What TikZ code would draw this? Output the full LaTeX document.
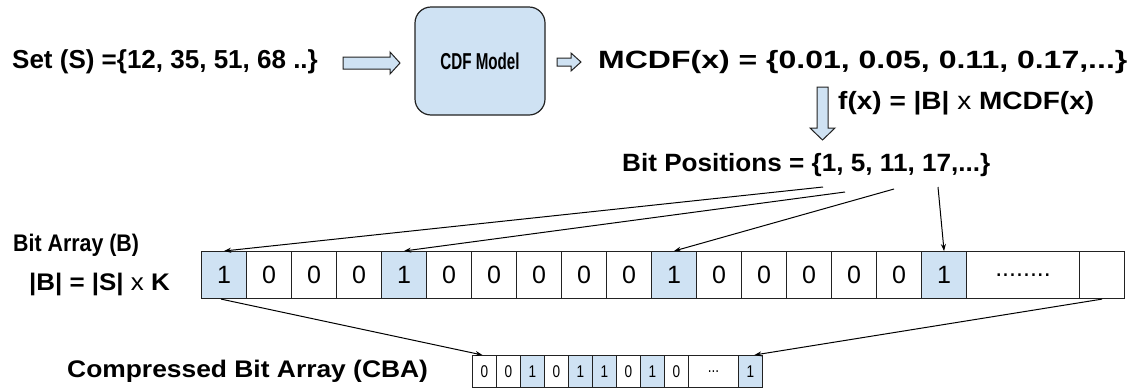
\documentclass[tikz,border=0pt]{standalone}
\usepackage{fontspec}
\setmainfont{Liberation Sans}
\usetikzlibrary{arrows.meta}
\definecolor{cellblue}{HTML}{CFE2F3}
\definecolor{edge}{HTML}{222222}
% horizontally stretched text: \hs{factor}{text}
\newcommand{\hs}[2]{{\addfontfeatures{FakeStretch=#1}#2}}
\newcommand{\fs}[1]{\fontsize{#1}{#1}\selectfont}
\begin{document}
\begin{tikzpicture}[x=1pt,y=-1pt,
  txt/.style={font=\bfseries, anchor=west, inner sep=0},
  bit/.style={draw=edge, line width=1.1pt, minimum width=45pt, minimum height=47pt,
    inner sep=0, anchor=north west, font=\fs{25}},
  cbit/.style={draw=edge, line width=0.9pt, minimum width=24pt, minimum height=32pt,
    inner sep=0, anchor=north west, font=\fs{17}},
  conn/.style={line width=1pt, -{Stealth[length=7pt,width=5pt]}},
  blockarrow/.style={draw=edge, line width=1pt, fill=cellblue, line join=miter},
]
\useasboundingbox (0,0) rectangle (1130,389);

% top row
\node[txt] (set) at (12,62) {\fs{26}Set (S) =\{12, 35, 51, 68 ..\}};
\node[draw=edge, line width=1.2pt, fill=cellblue, rounded corners=16pt,
  minimum width=130pt, minimum height=108pt, inner sep=0,
  font=\bfseries\fs{23}] (cdf) at (480,61) {\hs{0.66}{CDF Model}};
\node[txt] (mcdf) at (598,62) {\fs{25}\hs{1.28}{MCDF(x) = \{0.01, 0.05, 0.11, 0.17,...\}}};
\node[txt] (fx) at (838,103) {\fs{25}\hs{1.12}{f(x) = |B| {\mdseries x} MCDF(x)}};
\node[txt] (pos) at (622,165) {\fs{25}\hs{1.045}{Bit Positions = \{1, 5, 11, 17,...\}}};

% block arrows
\draw[blockarrow] (343,57) -- (390,57) -- (390,52) -- (400,63) -- (390,74)
  -- (390,69) -- (343,69) -- cycle;
\draw[blockarrow] (557,58) -- (571,58) -- (571,53) -- (581,62) -- (571,71)
  -- (571,66) -- (557,66) -- cycle;
\draw[blockarrow] (817,87) -- (828,87) -- (828,128) -- (835,128) -- (822.5,140)
  -- (810,128) -- (817,128) -- cycle;

% labels on the left
\node[txt] (ba) at (13,245) {\fs{24}\hs{0.89}{Bit Array (B)}};
\node[txt] (bsize) at (29,284) {\fs{24}\hs{1.08}{|B| = |S| {\mdseries x} K}};
\node[txt] (cba) at (67,371) {\fs{24}\hs{1.10}{Compressed Bit Array (CBA)}};

% bit array
\foreach \v [count=\i from 0] in {1,0,0,0,1,0,0,0,0,0,1,0,0,0,0,0,1} {
  \ifnum\v=1 \def\fc{cellblue}\else\def\fc{white}\fi
  \node[bit, fill=\fc] (b\i) at ({201+45*\i},251) {\v};
}
\node[bit, minimum width=113pt] (bdots) at (966,251) {........};
\node[bit] (bend) at (1079,251) {};

% compressed bit array
\foreach \v [count=\i from 0] in {0,0,1,0,1,1,0,1,0} {
  \ifnum\v=1 \def\fc{cellblue}\else\def\fc{white}\fi
  \node[cbit, fill=\fc] (c\i) at ({472+24*\i},355) {\hs{0.8}{\v}};
}
\node[cbit, minimum width=50pt] (cdots) at (688,355) {\hs{0.8}{...}};
\node[cbit, fill=cellblue] (cend) at (738,355) {\hs{0.8}{1}};

% connectors
\coordinate (p1) at (823,187);
\coordinate (p5) at (845,192);
\coordinate (p11) at (894,189);
\coordinate (p17) at (938,187);
\draw[conn] (p1) -- (b0.north);
\draw[conn] (p5) -- (b4.north);
\draw[conn] (p11) -- (b10.north);
\draw[conn] (p17) -- (b16.north);
\draw[conn] ([xshift=-3pt]b0.south) -- ([xshift=-2pt]c0.north);
\draw[conn] (bend.south) -- ([xshift=4pt]cend.north);
\end{tikzpicture}
\end{document}
